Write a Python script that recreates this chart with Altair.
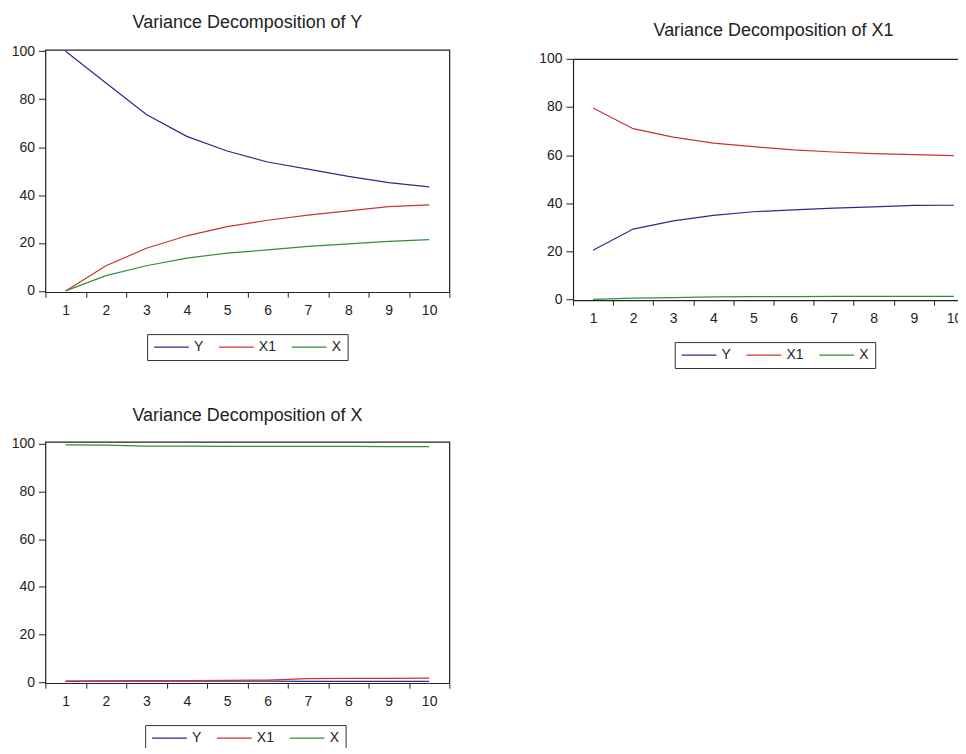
import altair as alt
import pandas as pd

steps = list(range(1, 11))
series = ["Y", "X1", "X"]
colors = ["#2b2b8c", "#cc3333", "#2f8f3f"]

# Variance Decomposition of Y
vd_y_Y = [100.0, 86.8, 73.6, 64.5, 58.4, 53.8, 50.8, 47.8, 45.2, 43.4]
vd_y_X1 = [0.0, 10.5, 17.8, 23.0, 26.8, 29.5, 31.6, 33.4, 35.2, 35.9]
vd_y_X = [0.0, 6.4, 10.5, 13.7, 15.8, 17.1, 18.6, 19.6, 20.7, 21.4]

# Variance Decomposition of X1
vd_x1_Y = [20.5, 29.3, 32.7, 35.0, 36.5, 37.3, 38.0, 38.5, 39.1, 39.2]
vd_x1_X1 = [79.6, 71.0, 67.5, 65.0, 63.5, 62.2, 61.3, 60.6, 60.2, 59.8]
vd_x1_X = [0.1, 0.6, 0.8, 1.1, 1.2, 1.2, 1.3, 1.3, 1.3, 1.3]

# Variance Decomposition of X
vd_x_Y = [0.5, 0.6, 0.6, 0.6, 0.6, 0.6, 0.5, 0.5, 0.5, 0.5]
vd_x_X1 = [0.6, 0.7, 0.8, 0.8, 0.9, 1.0, 1.6, 1.7, 1.7, 1.8]
vd_x_X = [99.4, 99.3, 98.9, 98.9, 98.8, 98.8, 98.8, 98.8, 98.7, 98.7]

y_ticks = [0, 20, 40, 60, 80, 100]

FONT = "Liberation Sans"
INK = "#222"


def make_df(y_vals, x1_vals, x_vals):
    rows = []
    for name, vals in zip(series, [y_vals, x1_vals, x_vals]):
        for s, v in zip(steps, vals):
            rows.append({"step": s, "value": v, "series": name})
    return pd.DataFrame(rows)


def panel(df, title, ydom, width, height, lx, ly, title_offset,
          drop=0, view=None):
    x_axis = dict(title=None, labelAngle=0, tickBand="extent", tickSize=5,
                  labelPadding=6, domain=False, labelFont=FONT,
                  labelFontSize=14, labelColor=INK, tickColor=INK)
    y_axis = dict(values=y_ticks, title=None, tickSize=7, labelPadding=4,
                  domain=False, grid=False, labelFont=FONT, labelFontSize=14,
                  labelColor=INK, tickColor=INK)
    y_scale = dict(domain=ydom, nice=False, zero=False)
    if drop:
        # plot frame drawn by the axes, starting `drop` px below the cell top
        y_scale["range"] = [height, drop]
        x_axis.update(domain=True, domainColor=INK, domainWidth=1.2)
        y_axis.update(domain=True, domainColor=INK, domainWidth=1.2, grid=True,
                      gridColor=INK, gridWidth=1.2,
                      gridOpacity={"condition": {"test": "datum.value === 100",
                                                 "value": 1}, "value": 0})
    props = dict(
        width=width, height=height,
        title=alt.TitleParams(title, font=FONT, fontSize=18, fontWeight="normal",
                              color=INK, anchor="middle", frame="group",
                              offset=title_offset, baseline="top"),
    )
    if view is not None:
        props["view"] = view
    return alt.Chart(df).mark_line(strokeWidth=1.2).encode(
        x=alt.X(
            "step:O",
            bandPosition=0.5,
            scale=alt.Scale(type="band", paddingInner=0, paddingOuter=0),
            axis=alt.Axis(**x_axis),
        ),
        y=alt.Y("value:Q", scale=alt.Scale(**y_scale), axis=alt.Axis(**y_axis)),
        color=alt.Color(
            "series:N",
            scale=alt.Scale(domain=series, range=colors),
            legend=alt.Legend(
                title=None, orient="none", legendX=lx, legendY=ly,
                direction="horizontal", columns=3,
                strokeColor="#333", padding=6,
                symbolType="M-1,0L4.8,0", symbolSize=144, symbolStrokeWidth=1.3,
                labelFont=FONT, labelFontSize=14, labelColor=INK,
                labelOffset=27, columnPadding=12,
            ),
        ),
    ).properties(**props)


p1 = panel(make_df(vd_y_Y, vd_y_X1, vd_y_X), "Variance Decomposition of Y",
           [-0.55, 100.6], 405, 243, 102, 285, 12)
p2 = panel(make_df(vd_x1_Y, vd_x1_X1, vd_x1_X), "Variance Decomposition of X1",
           [-0.25, 100.0], 402, 251, 102, 293, 10, drop=9,
           view=alt.ViewBackground(strokeOpacity=0))
p3 = panel(make_df(vd_x_Y, vd_x_X1, vd_x_X), "Variance Decomposition of X",
           [-0.3, 100.7], 405, 242, 100, 284, 12)

row1 = alt.hconcat(p1, p2, spacing=87).resolve_scale(color="independent")

chart = alt.vconcat(row1, p3, spacing=37).resolve_scale(
    color="independent"
).properties(
    padding={"left": 2.5, "top": 4, "right": -17, "bottom": -6},
    background="white",
).configure_view(
    stroke=INK, strokeWidth=1.2
).configure_axis(
    grid=False,
)

chart.save("out.html", embed_options={"renderer": "svg", "actions": False})
